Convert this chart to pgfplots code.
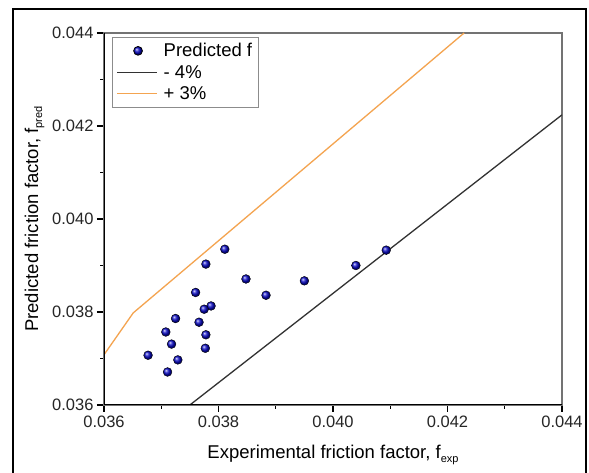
\documentclass[border=0pt]{standalone}
\usepackage{fontspec}
\setmainfont{Liberation Sans}
\usepackage{pgfplots}
\pgfplotsset{compat=1.18}
\definecolor{orangeline}{RGB}{244,164,80}
\definecolor{ballblue}{RGB}{10,10,200}
\definecolor{darkline}{RGB}{50,50,50}
\pgfplotsset{
  mylinelegend/.style={legend image code/.code={\draw[##1] (0pt,0pt) -- (40pt,0pt);}},
  mymarklegend/.style={legend image code/.code={\draw[##1] plot coordinates {(21pt,0pt)};}},
}
\begin{document}
\begin{tikzpicture}
\useasboundingbox (0,0) rectangle (589pt,473pt);
\fill[white] (0,0) rectangle (589pt,473pt);
\draw[line width=2.5pt] (13pt,-3pt) -- (13pt,464pt) -- (586pt,464pt) -- (586pt,-3pt);
\begin{axis}[
  at={(104pt,68pt)}, anchor=south west,
  scale only axis, width=458pt, height=372pt,
  xmin=0.036, xmax=0.044, ymin=0.036, ymax=0.044,
  xtick={0.036,0.038,0.040,0.042,0.044},
  xticklabels={0.036,0.038,0.040,0.042,0.044},
  ytick={0.036,0.038,0.040,0.042,0.044},
  yticklabels={0.036,0.038,0.040,0.042,0.044},
  minor xtick={0.037,0.039,0.041,0.043},
  minor ytick={0.037,0.039,0.041,0.043},
  scaled ticks=false,
  tick align=outside,
  xtick pos=bottom, ytick pos=left,
  major tick length=7pt, minor tick length=4pt,
  every tick/.style={black, line width=1.1pt},
  axis line style={draw=black!55, line width=1.2pt},
  tick label style={font=\fontsize{16.5}{19}\selectfont, text=black!85},
  xlabel={Experimental friction factor, f\raisebox{-4pt}{\fontsize{11}{12}\selectfont exp}},
  ylabel={Predicted friction factor, f\raisebox{-4pt}{\fontsize{11}{12}\selectfont pred}},
  xlabel style={at={(axis description cs:0.5,-0.1425)}, anchor=base, font=\fontsize{18.5}{22}\selectfont},
  ylabel style={at={(axis description cs:-0.1441,0.5)}, anchor=base, font=\fontsize{18.5}{22}\selectfont},
  legend style={at={(0,1)}, anchor=north west, xshift=8pt, yshift=-4pt,
    draw=black!45, line width=0.8pt, inner xsep=4pt, inner ysep=4pt, row sep=3pt,
    font=\fontsize{18.5}{22}\selectfont, cells={anchor=west},
    /tikz/every odd column/.append style={column sep=4pt}},
  legend cell align=left,
]
\addplot[only marks, mark=ball, mark size=4.4pt, ball color=ballblue, mymarklegend]
coordinates {
(0.03811,0.03935)
(0.03778,0.03903)
(0.03848,0.03871)
(0.03950,0.03867)
(0.03883,0.03836)
(0.03760,0.03842)
(0.03787,0.03813)
(0.03775,0.03806)
(0.03725,0.03786)
(0.03766,0.03778)
(0.03708,0.03757)
(0.03778,0.03751)
(0.03718,0.03731)
(0.03777,0.03722)
(0.03677,0.03707)
(0.03729,0.03697)
(0.03711,0.03671)
(0.04040,0.03900)
(0.04093,0.03933)
};
\addlegendentry{Predicted f}
\addplot[darkline, line width=1.3pt, no marks, mylinelegend]
coordinates {(0.0375,0.036) (0.044,0.04224)};
\addlegendentry{- 4\%}
\addplot[orangeline, line width=1.3pt, no marks, mylinelegend]
coordinates {(0.036,0.03708) (0.03651,0.03798) (0.04229,0.044)};
\addlegendentry{+ 3\%}
\draw[black, line width=1.4pt] (rel axis cs:0,1) -- (rel axis cs:0,0) -- (rel axis cs:1,0);
\end{axis}
\end{tikzpicture}
\end{document}
